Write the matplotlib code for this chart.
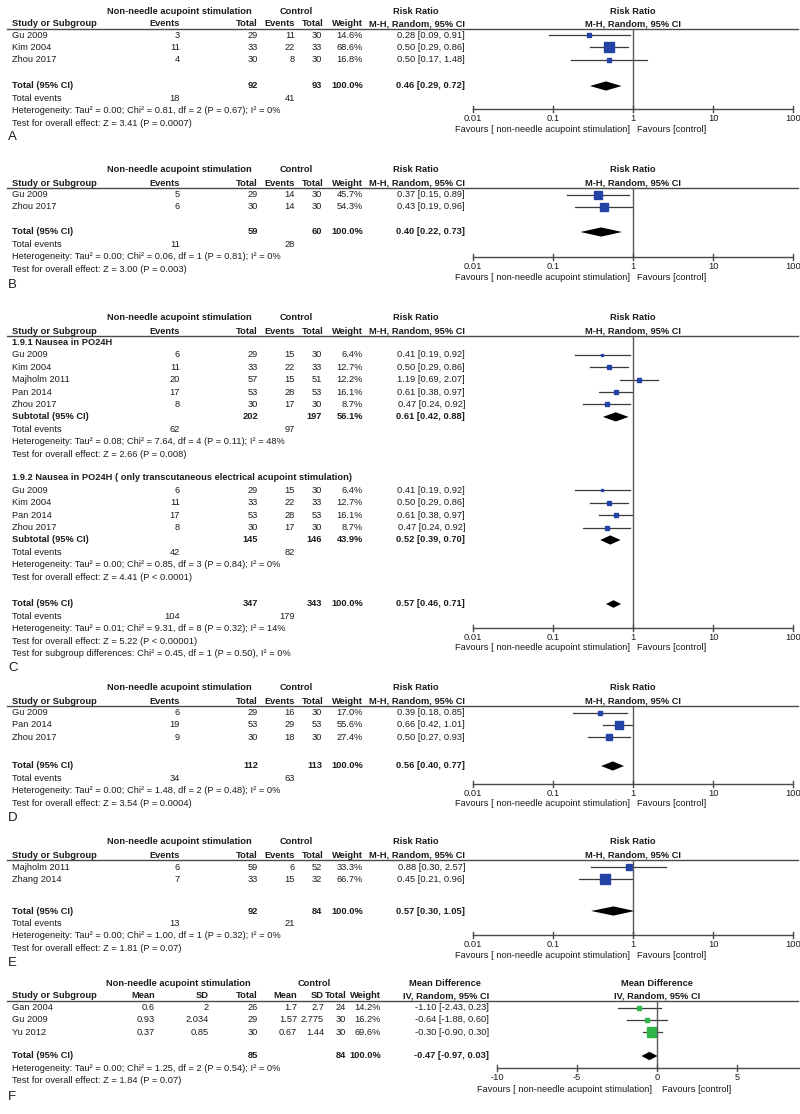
import matplotlib
matplotlib.use('Agg')
import matplotlib.pyplot as plt
import math

plt.rcParams['font.family'] = ['Liberation Sans', 'DejaVu Sans']

# ---------------- DATA ----------------
# Panel A
A_studies = ['Gu 2009', 'Kim 2004', 'Zhou 2017']
A_exp_events = [3, 11, 4]
A_exp_total = [29, 33, 30]
A_ctl_events = [11, 22, 8]
A_ctl_total = [30, 33, 30]
A_weight = [14.6, 68.6, 16.8]
A_rr = [0.28, 0.50, 0.50]
A_lo = [0.09, 0.29, 0.17]
A_hi = [0.91, 0.86, 1.48]
A_total = [92, 93, 0.46, 0.29, 0.72]
A_total_events = [18, 41]
A_het = 'Heterogeneity: Tau² = 0.00; Chi² = 0.81, df = 2 (P = 0.67); I² = 0%'
A_test = 'Test for overall effect: Z = 3.41 (P = 0.0007)'

# Panel B
B_studies = ['Gu 2009', 'Zhou 2017']
B_exp_events = [5, 6]
B_exp_total = [29, 30]
B_ctl_events = [14, 14]
B_ctl_total = [30, 30]
B_weight = [45.7, 54.3]
B_rr = [0.37, 0.43]
B_lo = [0.15, 0.19]
B_hi = [0.89, 0.96]
B_total = [59, 60, 0.40, 0.22, 0.73]
B_total_events = [11, 28]
B_het = 'Heterogeneity: Tau² = 0.00; Chi² = 0.06, df = 1 (P = 0.81); I² = 0%'
B_test = 'Test for overall effect: Z = 3.00 (P = 0.003)'

# Panel C, subgroup 1
C1_title = '1.9.1 Nausea in PO24H'
C1_studies = ['Gu 2009', 'Kim 2004', 'Majholm 2011', 'Pan 2014', 'Zhou 2017']
C1_exp_events = [6, 11, 20, 17, 8]
C1_exp_total = [29, 33, 57, 53, 30]
C1_ctl_events = [15, 22, 15, 28, 17]
C1_ctl_total = [30, 33, 51, 53, 30]
C1_weight = [6.4, 12.7, 12.2, 16.1, 8.7]
C1_rr = [0.41, 0.50, 1.19, 0.61, 0.47]
C1_lo = [0.19, 0.29, 0.69, 0.38, 0.24]
C1_hi = [0.92, 0.86, 2.07, 0.97, 0.92]
C1_sub = [202, 197, 56.1, 0.61, 0.42, 0.88]
C1_events = [62, 97]
C1_het = 'Heterogeneity: Tau² = 0.08; Chi² = 7.64, df = 4 (P = 0.11); I² = 48%'
C1_test = 'Test for overall effect: Z = 2.66 (P = 0.008)'
# Panel C, subgroup 2
C2_title = '1.9.2 Nausea in PO24H ( only transcutaneous electrical acupoint stimulation)'
C2_studies = ['Gu 2009', 'Kim 2004', 'Pan 2014', 'Zhou 2017']
C2_exp_events = [6, 11, 17, 8]
C2_exp_total = [29, 33, 53, 30]
C2_ctl_events = [15, 22, 28, 17]
C2_ctl_total = [30, 33, 53, 30]
C2_weight = [6.4, 12.7, 16.1, 8.7]
C2_rr = [0.41, 0.50, 0.61, 0.47]
C2_lo = [0.19, 0.29, 0.38, 0.24]
C2_hi = [0.92, 0.86, 0.97, 0.92]
C2_sub = [145, 146, 43.9, 0.52, 0.39, 0.70]
C2_events = [42, 82]
C2_het = 'Heterogeneity: Tau² = 0.00; Chi² = 0.85, df = 3 (P = 0.84); I² = 0%'
C2_test = 'Test for overall effect: Z = 4.41 (P < 0.0001)'
C_total = [347, 343, 0.57, 0.46, 0.71]
C_total_events = [104, 179]
C_het = 'Heterogeneity: Tau² = 0.01; Chi² = 9.31, df = 8 (P = 0.32); I² = 14%'
C_test = 'Test for overall effect: Z = 5.22 (P < 0.00001)'
C_subtest = 'Test for subgroup differences: Chi² = 0.45, df = 1 (P = 0.50), I² = 0%'

# Panel D
D_studies = ['Gu 2009', 'Pan 2014', 'Zhou 2017']
D_exp_events = [6, 19, 9]
D_exp_total = [29, 53, 30]
D_ctl_events = [16, 29, 18]
D_ctl_total = [30, 53, 30]
D_weight = [17.0, 55.6, 27.4]
D_rr = [0.39, 0.66, 0.50]
D_lo = [0.18, 0.42, 0.27]
D_hi = [0.85, 1.01, 0.93]
D_total = [112, 113, 0.56, 0.40, 0.77]
D_total_events = [34, 63]
D_het = 'Heterogeneity: Tau² = 0.00; Chi² = 1.48, df = 2 (P = 0.48); I² = 0%'
D_test = 'Test for overall effect: Z = 3.54 (P = 0.0004)'

# Panel E
E_studies = ['Majholm 2011', 'Zhang 2014']
E_exp_events = [6, 7]
E_exp_total = [59, 33]
E_ctl_events = [6, 15]
E_ctl_total = [52, 32]
E_weight = [33.3, 66.7]
E_rr = [0.88, 0.45]
E_lo = [0.30, 0.21]
E_hi = [2.57, 0.96]
E_total = [92, 84, 0.57, 0.30, 1.05]
E_total_events = [13, 21]
E_het = 'Heterogeneity: Tau² = 0.00; Chi² = 1.00, df = 1 (P = 0.32); I² = 0%'
E_test = 'Test for overall effect: Z = 1.81 (P = 0.07)'

# Panel F
F_studies = ['Gan 2004', 'Gu 2009', 'Yu 2012']
F_exp_mean = ['0.6', '0.93', '0.37']
F_exp_sd = ['2', '2.034', '0.85']
F_exp_total = [26, 29, 30]
F_ctl_mean = ['1.7', '1.57', '0.67']
F_ctl_sd = ['2.7', '2.775', '1.44']
F_ctl_total = [24, 30, 30]
F_weight = [14.2, 16.2, 69.6]
F_md = [-1.10, -0.64, -0.30]
F_lo = [-2.43, -1.88, -0.90]
F_hi = [0.23, 0.60, 0.30]
F_total = [85, 84, -0.47, -0.97, 0.03]
F_het = 'Heterogeneity: Tau² = 0.00; Chi² = 1.25, df = 2 (P = 0.54); I² = 0%'
F_test = 'Test for overall effect: Z = 1.84 (P = 0.07)'

RR_TICKS = [0.01, 0.1, 1, 10, 100]
RR_TICK_LABELS = ['0.01', '0.1', '1', '10', '100']
MD_RANGE = [-10, 10]
MD_TICKS = [-10, -5, 0, 5]
MD_TICK_LABELS = ['-10', '-5', '0', '5']
FAV_LEFT = 'Favours [ non-needle acupoint stimulation]'
FAV_RIGHT = 'Favours [control]'

# ---------------- STYLE / LAYOUT ----------------
W, H = 800, 1114
FS = 6.7
TC = '#1c1c1c'
LINE = '#3a3a3a'
AXC = '#4a4a4a'
BLUE = '#2443a6'
GREEN = '#2fb54a'
P = 12.4

fig = plt.figure(figsize=(W / 100, H / 100), dpi=100)
tx = fig.add_axes([0, 0, 1, 1])
tx.set_xlim(0, W); tx.set_ylim(H, 0); tx.axis('off')
rr = fig.add_axes([473 / W, 0, 320 / W, 1])
rr.set_xscale('log'); rr.set_xlim(0.01, 100); rr.set_ylim(H, 0); rr.axis('off')
md = fig.add_axes([497 / W, 0, 320 / W, 1])
md.set_xlim(*MD_RANGE); md.set_ylim(H, 0); md.axis('off')


def t(x, y, s, ha='left', bold=False, size=FS, ax=None):
    (ax or tx).text(x, y, s, ha=ha, va='center', fontsize=size, color=TC,
                    fontweight='bold' if bold else 'normal', clip_on=False)


def sq_ms(w):
    return max(2.3, 1.15 * math.sqrt(w)) * 0.72


# column anchors (right edges) for the risk-ratio tables
CX_EE, CX_ET, CX_CE, CX_CT, CX_W, CX_RR = 180, 258, 295, 322, 363, 465


def rr_header(y1):
    y2 = y1 + 13
    t(179, y1, 'Non-needle acupoint stimulation', 'center', True)
    t(296, y1, 'Control', 'center', True)
    t(416, y1, 'Risk Ratio', 'center', True)
    t(1, y1, 'Risk Ratio', 'center', True, ax=rr)
    t(12, y2, 'Study or Subgroup', bold=True)
    t(CX_EE, y2, 'Events', 'right', True)
    t(CX_ET, y2, 'Total', 'right', True)
    t(CX_CE, y2, 'Events', 'right', True)
    t(CX_CT + 2, y2, 'Total', 'right', True)
    t(CX_W, y2, 'Weight', 'right', True)
    t(CX_RR, y2, 'M-H, Random, 95% CI', 'right', True)
    t(1, y2, 'M-H, Random, 95% CI', 'center', True, ax=rr)
    tx.plot([7, 798], [y2 + 5, y2 + 5], color=AXC, lw=1)
    return y2 + 5


def rr_study(y, name, ee, et, ce, ct, w, est, lo, hi):
    t(12, y, name)
    t(CX_EE, y, str(ee), 'right')
    t(CX_ET, y, str(et), 'right')
    t(CX_CE, y, str(ce), 'right')
    t(CX_CT, y, str(ct), 'right')
    t(CX_W, y, f'{w:.1f}%', 'right')
    t(CX_RR, y, f'{est:.2f} [{lo:.2f}, {hi:.2f}]', 'right')
    rr.plot([lo, hi], [y, y], color=LINE, lw=0.9, clip_on=False)
    rr.plot([est], [y], marker='s', ms=sq_ms(w), color=BLUE, mec=BLUE, clip_on=False)


def summary(ax, y, label, n1, n2, wtxt, est, lo, hi, c_n1=CX_ET, c_n2=CX_CT, c_w=CX_W, c_e=CX_RR, hh=4.6):
    t(12, y, label, bold=True)
    t(c_n1, y, str(n1), 'right', True)
    t(c_n2, y, str(n2), 'right', True)
    t(c_w, y, wtxt, 'right', True)
    t(c_e, y, f'{est:.2f} [{lo:.2f}, {hi:.2f}]', 'right', True)
    ax.fill([lo, est, hi, est], [y, y - hh, y, y + hh], color='black', lw=0, clip_on=False)


def events_row(y, e1, e2):
    t(12, y, 'Total events')
    t(CX_EE, y, str(e1), 'right')
    t(CX_CE, y, str(e2), 'right')


def log_axis(y_top, ya):
    rr.plot([1, 1], [y_top, ya], color='#5a5a5a', lw=1, clip_on=False)
    rr.plot([RR_TICKS[0], RR_TICKS[-1]], [ya, ya], color=AXC, lw=1, clip_on=False)
    for v, lab in zip(RR_TICKS, RR_TICK_LABELS):
        rr.plot([v, v], [ya - 3.5, ya + 2.5], color=AXC, lw=1, clip_on=False)
        t(v, ya + 9.5, lab, 'center', ax=rr)
    t(0.915, ya + 20, FAV_LEFT, 'right', ax=rr)
    t(1.115, ya + 20, FAV_RIGHT, 'left', ax=rr)


def panel_label(y, s):
    tx.text(8, y, s, ha='left', va='center', fontsize=9.5, color=TC)


def simple_rr_panel(y1, y_first, y_total, y_axis, y_label, letter,
                    studies, ee, et, ce, ct, w, est, lo, hi, tot, tev, het, test):
    yu = rr_header(y1)
    for i in range(len(studies)):
        rr_study(y_first + i * P, studies[i], ee[i], et[i], ce[i], ct[i], w[i], est[i], lo[i], hi[i])
    summary(rr, y_total, 'Total (95% CI)', tot[0], tot[1], '100.0%', tot[2], tot[3], tot[4])
    events_row(y_total + P, tev[0], tev[1])
    t(12, y_total + 2 * P, het)
    t(12, y_total + 3 * P, test)
    log_axis(yu, y_axis)
    panel_label(y_label, letter)


# ---- A
simple_rr_panel(11, 35, 86, 109, 137, 'A', A_studies, A_exp_events, A_exp_total, A_ctl_events,
                A_ctl_total, A_weight, A_rr, A_lo, A_hi, A_total, A_total_events, A_het, A_test)
# ---- B
simple_rr_panel(170, 194.5, 232, 257, 285, 'B', B_studies, B_exp_events, B_exp_total, B_ctl_events,
                B_ctl_total, B_weight, B_rr, B_lo, B_hi, B_total, B_total_events, B_het, B_test)

# ---- C
yu = rr_header(318)
y = 342.5
t(12, y, C1_title, bold=True)
for i in range(len(C1_studies)):
    y += P
    rr_study(y, C1_studies[i], C1_exp_events[i], C1_exp_total[i], C1_ctl_events[i], C1_ctl_total[i],
             C1_weight[i], C1_rr[i], C1_lo[i], C1_hi[i])
y += P
summary(rr, y, 'Subtotal (95% CI)', C1_sub[0], C1_sub[1], f'{C1_sub[2]:.1f}%', C1_sub[3], C1_sub[4], C1_sub[5])
events_row(y + P, C1_events[0], C1_events[1])
t(12, y + 2 * P, C1_het)
t(12, y + 3 * P, C1_test)
y = 478
t(12, y, C2_title, bold=True)
for i in range(len(C2_studies)):
    y += P
    rr_study(y, C2_studies[i], C2_exp_events[i], C2_exp_total[i], C2_ctl_events[i], C2_ctl_total[i],
             C2_weight[i], C2_rr[i], C2_lo[i], C2_hi[i])
y += P
summary(rr, y, 'Subtotal (95% CI)', C2_sub[0], C2_sub[1], f'{C2_sub[2]:.1f}%', C2_sub[3], C2_sub[4], C2_sub[5])
events_row(y + P, C2_events[0], C2_events[1])
t(12, y + 2 * P, C2_het)
t(12, y + 3 * P, C2_test)
y = 604
summary(rr, y, 'Total (95% CI)', C_total[0], C_total[1], '100.0%', C_total[2], C_total[3], C_total[4], hh=3.8)
events_row(y + P, C_total_events[0], C_total_events[1])
t(12, y + 2 * P, C_het)
t(12, y + 3 * P, C_test)
t(12, y + 4 * P, C_subtest)
log_axis(yu, 628)
panel_label(668, 'C')

# ---- D
simple_rr_panel(688, 712.5, 766, 784, 818, 'D', D_studies, D_exp_events, D_exp_total, D_ctl_events,
                D_ctl_total, D_weight, D_rr, D_lo, D_hi, D_total, D_total_events, D_het, D_test)
# ---- E
simple_rr_panel(842, 867, 911, 935, 963, 'E', E_studies, E_exp_events, E_exp_total, E_ctl_events,
                E_ctl_total, E_weight, E_rr, E_lo, E_hi, E_total, E_total_events, E_het, E_test)

# ---- F
y1 = 983
y2 = y1 + 13
t(178, y1, 'Non-needle acupoint stimulation', 'center', True)
t(314, y1, 'Control', 'center', True)
t(445, y1, 'Mean Difference', 'center', True)
t(0, y1, 'Mean Difference', 'center', True, ax=md)
t(12, y2, 'Study or Subgroup', bold=True)
for x, s in [(155, 'Mean'), (209, 'SD'), (258, 'Total'), (297, 'Mean'), (324, 'SD'),
             (347, 'Total'), (381, 'Weight'), (489, 'IV, Random, 95% CI')]:
    t(x, y2, s, 'right', True)
t(0, y2, 'IV, Random, 95% CI', 'center', True, ax=md)
yu = y2 + 5
tx.plot([7, 798], [yu, yu], color=AXC, lw=1)
for i in range(len(F_studies)):
    y = 1007.5 + i * P
    t(12, y, F_studies[i])
    t(155, y, F_exp_mean[i], 'right')
    t(209, y, F_exp_sd[i], 'right')
    t(258, y, str(F_exp_total[i]), 'right')
    t(297, y, F_ctl_mean[i], 'right')
    t(324, y, F_ctl_sd[i], 'right')
    t(346, y, str(F_ctl_total[i]), 'right')
    t(381, y, f'{F_weight[i]:.1f}%', 'right')
    t(489, y, f'{F_md[i]:.2f} [{F_lo[i]:.2f}, {F_hi[i]:.2f}]', 'right')
    md.plot([F_lo[i], F_hi[i]], [y, y], color=LINE, lw=0.9, clip_on=False)
    md.plot([F_md[i]], [y], marker='s', ms=sq_ms(F_weight[i]), color=GREEN, mec=GREEN, clip_on=False)
y = 1056
summary(md, y, 'Total (95% CI)', F_total[0], F_total[1], '100.0%', F_total[2], F_total[3], F_total[4],
        c_n2=346, c_w=381, c_e=489, hh=4.2)
t(12, y + P, F_het)
t(12, y + 2 * P, F_test)
ya = 1068
md.plot([0, 0], [yu, ya], color='#5a5a5a', lw=1, clip_on=False)
md.plot(MD_RANGE, [ya, ya], color=AXC, lw=1, clip_on=False)
for v, lab in zip(MD_TICKS, MD_TICK_LABELS):
    md.plot([v, v], [ya - 3.5, ya + 2.5], color=AXC, lw=1, clip_on=False)
    t(v, ya + 9.5, lab, 'center', ax=md)
t(-0.3, ya + 21, FAV_LEFT, 'right', ax=md)
t(0.3, ya + 21, FAV_RIGHT, 'left', ax=md)
panel_label(1097, 'F')

fig.savefig('out.png', dpi=100, facecolor='white')
